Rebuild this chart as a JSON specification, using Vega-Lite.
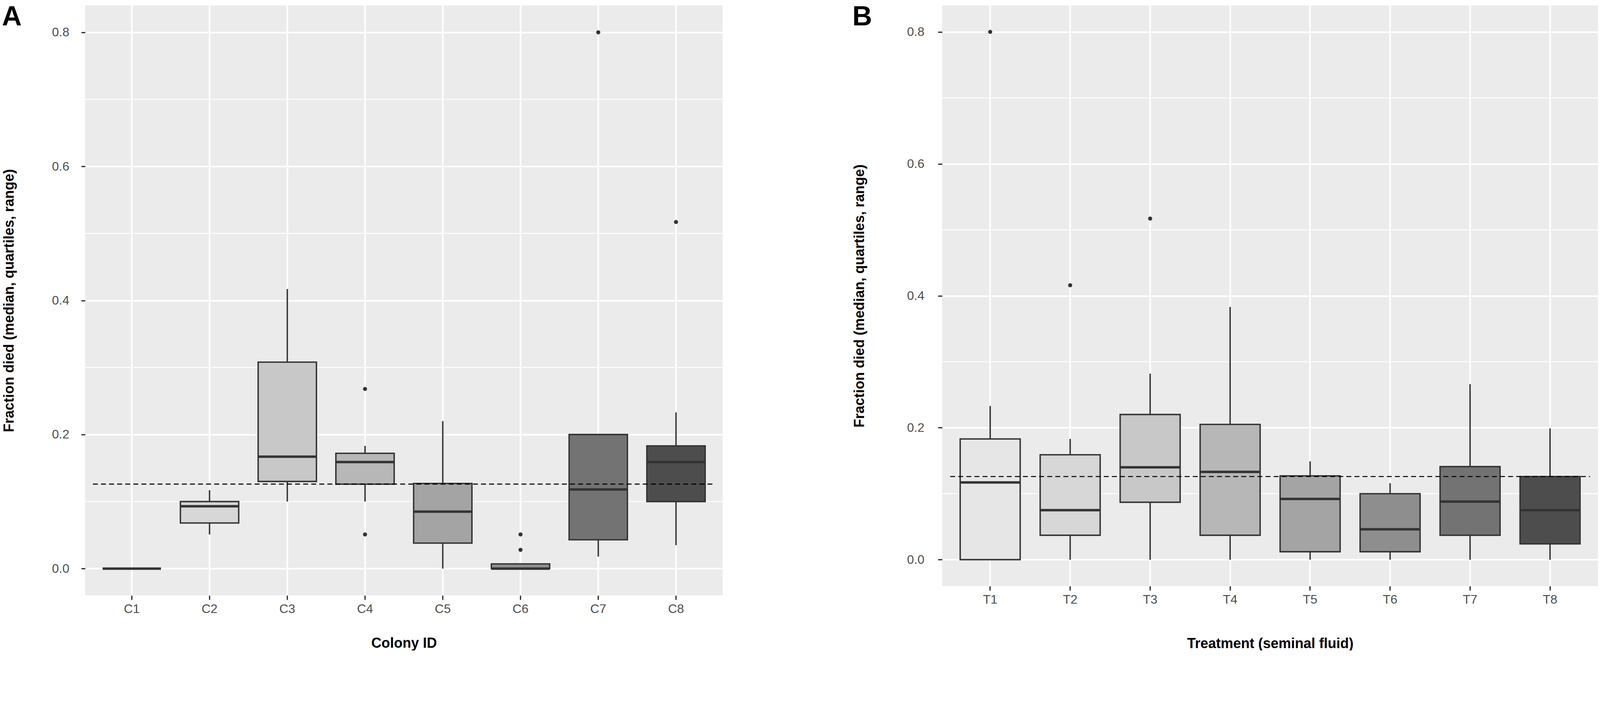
{
  "$schema": "https://vega.github.io/schema/vega-lite/v6.json",
  "background": "white",
  "padding": {"left": 4, "top": 9, "right": 0, "bottom": 0},
  "spacing": 329,
  "datasets": {
    "minor": [{"v": 0.1}, {"v": 0.3}, {"v": 0.5}, {"v": 0.7}],
    "boxA": [
      {"id": "C1", "lower": 0, "q1": 0, "median": 0, "q3": 0, "upper": 0},
      {"id": "C2", "lower": 0.051, "q1": 0.068, "median": 0.093, "q3": 0.100, "upper": 0.117},
      {"id": "C3", "lower": 0.100, "q1": 0.130, "median": 0.167, "q3": 0.308, "upper": 0.417},
      {"id": "C4", "lower": 0.100, "q1": 0.126, "median": 0.159, "q3": 0.172, "upper": 0.183},
      {"id": "C5", "lower": 0, "q1": 0.038, "median": 0.085, "q3": 0.127, "upper": 0.220},
      {"id": "C6", "lower": 0, "q1": 0, "median": 0, "q3": 0.007, "upper": 0.007},
      {"id": "C7", "lower": 0.018, "q1": 0.043, "median": 0.118, "q3": 0.200, "upper": 0.200},
      {"id": "C8", "lower": 0.035, "q1": 0.100, "median": 0.159, "q3": 0.183, "upper": 0.233}
    ],
    "outA": [
      {"id": "C4", "value": 0.268},
      {"id": "C4", "value": 0.051},
      {"id": "C6", "value": 0.051},
      {"id": "C6", "value": 0.028},
      {"id": "C7", "value": 0.800},
      {"id": "C8", "value": 0.517}
    ],
    "boxB": [
      {"id": "T1", "lower": 0, "q1": 0, "median": 0.117, "q3": 0.183, "upper": 0.233},
      {"id": "T2", "lower": 0, "q1": 0.037, "median": 0.075, "q3": 0.159, "upper": 0.183},
      {"id": "T3", "lower": 0, "q1": 0.087, "median": 0.140, "q3": 0.220, "upper": 0.282},
      {"id": "T4", "lower": 0, "q1": 0.037, "median": 0.133, "q3": 0.205, "upper": 0.383},
      {"id": "T5", "lower": 0, "q1": 0.012, "median": 0.092, "q3": 0.127, "upper": 0.149},
      {"id": "T6", "lower": 0, "q1": 0.012, "median": 0.046, "q3": 0.100, "upper": 0.116},
      {"id": "T7", "lower": 0, "q1": 0.037, "median": 0.088, "q3": 0.141, "upper": 0.266},
      {"id": "T8", "lower": 0, "q1": 0.024, "median": 0.075, "q3": 0.126, "upper": 0.199}
    ],
    "outB": [
      {"id": "T1", "value": 0.800},
      {"id": "T2", "value": 0.416},
      {"id": "T3", "value": 0.517}
    ]
  },
  "hconcat": [
    {
      "width": 1632,
      "height": 1511,
      "title": {"text": "A", "orient": "left", "anchor": "end", "frame": "bounds", "angle": 0, "align": "left", "baseline": "top", "offset": -50, "dy": -4, "fontSize": 70, "fontWeight": "bold", "font": "Liberation Sans", "color": "black"},
      "layer": [
        {
          "data": {"name": "minor"},
          "mark": {"type": "rule", "color": "white", "strokeWidth": 2.25},
          "encoding": {
            "y": {"field": "v", "type": "quantitative",
              "scale": {"domain": [-0.04, 0.84], "nice": false, "zero": false},
              "axis": {"values": [0, 0.2, 0.4, 0.6, 0.8], "format": ".1f", "title": "Fraction died (median, quartiles, range)", "tickSize": 10, "labelPadding": 31, "titlePadding": 90}}
          }
        },
        {
          "data": {"name": "boxA"},
          "mark": {"type": "rule", "color": "#333333", "strokeWidth": 3.6},
          "encoding": {
            "x": {"field": "id", "type": "nominal",
              "scale": {"type": "band", "paddingInner": 0.25, "paddingOuter": 0.225},
              "axis": {"title": "Colony ID", "labelAngle": 0, "tickSize": 11, "labelPadding": 8, "titlePadding": 55}},
            "y": {"field": "lower", "type": "quantitative"},
            "y2": {"field": "upper"}
          }
        },
        {
          "data": {"name": "boxA"},
          "mark": {"type": "bar", "stroke": "#333333", "strokeWidth": 3.6},
          "encoding": {
            "x": {"field": "id", "type": "nominal"},
            "y": {"field": "q1", "type": "quantitative"},
            "y2": {"field": "q3"},
            "fill": {"field": "id", "type": "nominal", "legend": null,
              "scale": {"range": ["#e6e6e6", "#d7d7d7", "#c8c8c8", "#b7b7b7", "#a4a4a4", "#8e8e8e", "#737373", "#4d4d4d"]}}
          }
        },
        {
          "data": {"name": "boxA"},
          "mark": {"type": "tick", "color": "#333333", "thickness": 6.3, "opacity": 1},
          "encoding": {
            "x": {"field": "id", "type": "nominal"},
            "y": {"field": "median", "type": "quantitative"}
          }
        },
        {
          "data": {"name": "outA"},
          "mark": {"type": "circle", "color": "#333333", "size": 110, "opacity": 1},
          "encoding": {
            "x": {"field": "id", "type": "nominal"},
            "y": {"field": "value", "type": "quantitative"}
          }
        },
        {
          "data": {"values": [{}]},
          "mark": {"type": "rule", "color": "black", "strokeWidth": 2.7, "strokeDash": [12.6, 8.1]},
          "encoding": {
            "x": {"datum": "C1", "bandPosition": -0.1667},
            "x2": {"datum": "C8", "bandPosition": 1.1667},
            "y": {"datum": 0.126}
          }
        }
      ]
    },
    {
      "width": 1679,
      "height": 1487,
      "title": {"text": "B", "orient": "left", "anchor": "end", "frame": "bounds", "angle": 0, "align": "left", "baseline": "top", "offset": -50, "dy": -4, "fontSize": 70, "fontWeight": "bold", "font": "Liberation Sans", "color": "black"},
      "layer": [
        {
          "data": {"name": "minor"},
          "mark": {"type": "rule", "color": "white", "strokeWidth": 2.25},
          "encoding": {
            "y": {"field": "v", "type": "quantitative",
              "scale": {"domain": [-0.04, 0.84], "nice": false, "zero": false},
              "axis": {"values": [0, 0.2, 0.4, 0.6, 0.8], "format": ".1f", "title": "Fraction died (median, quartiles, range)", "tickSize": 11, "labelPadding": 35, "titlePadding": 102}}
          }
        },
        {
          "data": {"name": "boxB"},
          "mark": {"type": "rule", "color": "#333333", "strokeWidth": 3.6},
          "encoding": {
            "x": {"field": "id", "type": "nominal",
              "scale": {"type": "band", "paddingInner": 0.25, "paddingOuter": 0.225},
              "axis": {"title": "Treatment (seminal fluid)", "labelAngle": 0, "tickSize": 11, "labelPadding": 8, "titlePadding": 80}},
            "y": {"field": "lower", "type": "quantitative"},
            "y2": {"field": "upper"}
          }
        },
        {
          "data": {"name": "boxB"},
          "mark": {"type": "bar", "stroke": "#333333", "strokeWidth": 3.6},
          "encoding": {
            "x": {"field": "id", "type": "nominal"},
            "y": {"field": "q1", "type": "quantitative"},
            "y2": {"field": "q3"},
            "fill": {"field": "id", "type": "nominal", "legend": null,
              "scale": {"range": ["#e6e6e6", "#d7d7d7", "#c8c8c8", "#b7b7b7", "#a4a4a4", "#8e8e8e", "#737373", "#4d4d4d"]}}
          }
        },
        {
          "data": {"name": "boxB"},
          "mark": {"type": "tick", "color": "#333333", "thickness": 6.3, "opacity": 1},
          "encoding": {
            "x": {"field": "id", "type": "nominal"},
            "y": {"field": "median", "type": "quantitative"}
          }
        },
        {
          "data": {"name": "outB"},
          "mark": {"type": "circle", "color": "#333333", "size": 110, "opacity": 1},
          "encoding": {
            "x": {"field": "id", "type": "nominal"},
            "y": {"field": "value", "type": "quantitative"}
          }
        },
        {
          "data": {"values": [{}]},
          "mark": {"type": "rule", "color": "black", "strokeWidth": 2.7, "strokeDash": [12.6, 8.1]},
          "encoding": {
            "x": {"datum": "T1", "bandPosition": -0.1667},
            "x2": {"datum": "T8", "bandPosition": 1.1667},
            "y": {"datum": 0.126}
          }
        }
      ]
    }
  ],
  "resolve": {"scale": {"fill": "independent"}},
  "config": {
    "view": {"fill": "#ebebeb", "stroke": null},
    "axis": {
      "domain": false,
      "grid": true,
      "gridColor": "white",
      "gridWidth": 4,
      "gridOpacity": 1,
      "tickColor": "#333333",
      "tickWidth": 3.2,
      "labelFont": "Liberation Sans",
      "labelFontSize": 32,
      "labelColor": "#4d4d4d",
      "titleFont": "Liberation Sans",
      "titleFontSize": 36,
      "titleFontWeight": "bold",
      "titleColor": "black"
    }
  }
}
